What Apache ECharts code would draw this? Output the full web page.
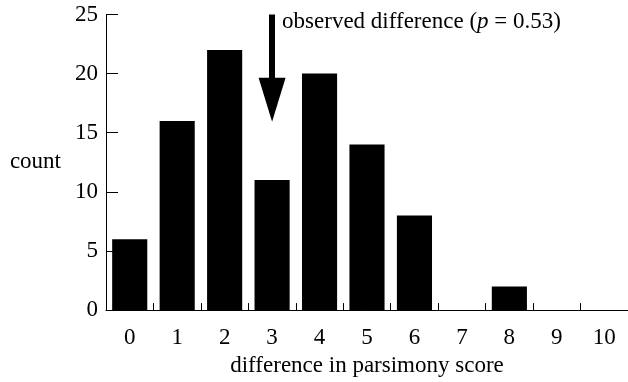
<!DOCTYPE html>
<html>
<head>
<meta charset="utf-8">
<script src="https://cdn.jsdelivr.net/npm/echarts@6/dist/echarts.min.js"></script>
<style>html,body{margin:0;padding:0;background:#fff;}#c{width:628px;height:382px;}</style>
</head>
<body>
<div id="c"></div>
<script>
const categories = ['0','1','2','3','4','5','6','7','8','9','10'];
const counts = [6, 16, 22, 11, 20, 14, 8, 0, 2, 0, 0];
const yTicks = [0, 5, 10, 15, 20, 25];
const observed = '3';
const arrowFrom = 25;
const arrowTo = 17.8;
const pValue = '0.53';

const font = 'Liberation Serif';
const fs = 23;
const chart = echarts.init(document.getElementById('c'), null, {renderer: 'canvas'});
chart.setOption({
  animation: false,
  backgroundColor: '#fff',
  grid: {left: 106, right: 0, top: 14.5, bottom: 71, containLabel: false},
  xAxis: {
    type: 'category',
    data: categories,
    name: 'difference in parsimony score',
    nameLocation: 'middle',
    nameGap: 42,
    nameTextStyle: {fontFamily: font, fontSize: fs, color: '#000'},
    axisLine: {show: true, lineStyle: {color: '#000', width: 1}},
    axisTick: {show: true, inside: true, length: 7, lineStyle: {color: '#000', width: 1}},
    axisLabel: {fontFamily: font, fontSize: fs, color: '#000', margin: 16},
    splitLine: {show: false}
  },
  yAxis: {
    type: 'value',
    min: yTicks[0],
    max: yTicks[yTicks.length - 1],
    interval: 5,
    name: 'count',
    nameLocation: 'middle',
    nameRotate: 0,
    nameGap: 45,
    nameTextStyle: {fontFamily: font, fontSize: fs, color: '#000'},
    axisLine: {show: true, lineStyle: {color: '#000', width: 1}},
    axisTick: {show: true, inside: true, length: 12, lineStyle: {color: '#000', width: 1}},
    axisLabel: {fontFamily: font, fontSize: fs, color: '#000', margin: 8},
    splitLine: {show: false}
  },
  series: [{
    type: 'bar',
    data: counts,
    barWidth: '74%',
    itemStyle: {color: '#000'},
    silent: true,
    markLine: {
      silent: true,
      symbol: ['none', 'triangle'],
      symbolSize: [27, 44],
      label: {show: false},
      lineStyle: {color: '#000', width: 6, type: 'solid'},
      data: [[{coord: [observed, arrowFrom]}, {coord: [observed, arrowTo]}]]
    },
    markPoint: {
      silent: true,
      symbol: 'circle',
      symbolSize: 0,
      data: [{coord: [observed, arrowFrom]}],
      label: {
        show: true,
        position: 'right',
        distance: 10,
        offset: [0, 7],
        formatter: 'observed difference ({i|p} = ' + pValue + ')',
        fontFamily: font,
        fontSize: fs,
        color: '#000',
        rich: {i: {fontFamily: font, fontSize: fs, fontStyle: 'italic', color: '#000'}}
      }
    }
  }]
});
</script>
</body>
</html>
